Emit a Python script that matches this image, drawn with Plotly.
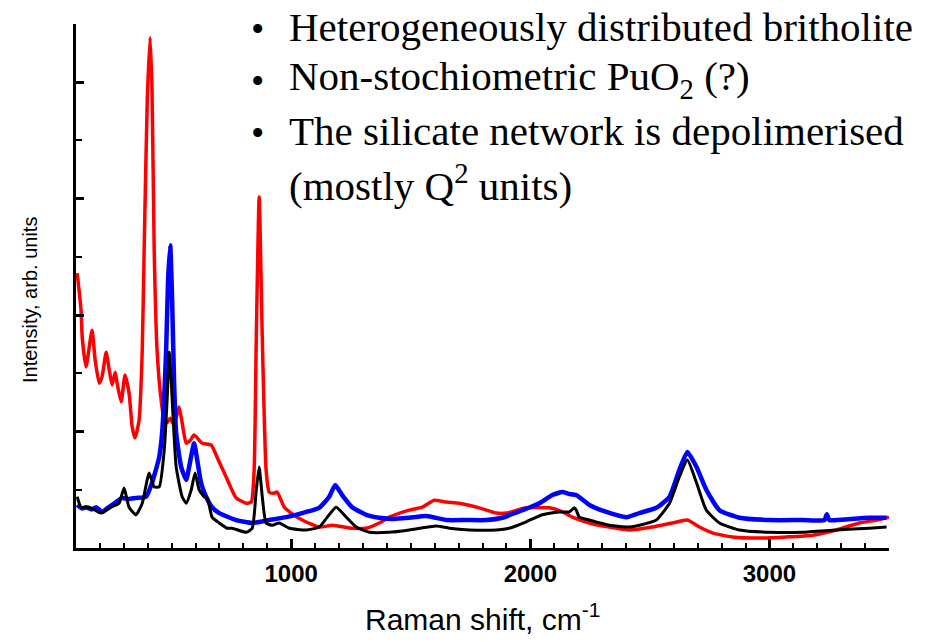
import plotly.graph_objects as go

# Raman spectra: (Raman shift cm-1, intensity arb. units)
red_pts = [(105,4.72),(121,4.09),(126,3.62),(142,3.11),(167,3.74),(180,3.23),(197,2.83),(209,2.94),
           (226,3.36),(239,3.06),(251,2.80),(264,3.02),(272,2.83),(289,2.51),(305,2.97),(322,2.66),
           (335,2.08),(347,1.89),(364,2.20),(377,3.40),(385,5.12),(398,7.69),(410,8.77),(418,7.86),
           (427,5.12),(439,3.40),(456,2.54),(469,2.20),(481,2.15),(494,2.23),(510,2.11),(531,2.42),
           (544,2.15),(561,1.80),(578,1.85),(594,1.94),(628,1.80),(665,1.77),(690,1.56),(728,1.22),
           (770,0.86),(812,0.77),(833,0.79),(845,1.34),(854,3.62),(866,6.03),(879,3.62),(895,1.34),
           (908,0.96),(925,0.94),(941,0.96),(971,0.70),(1000,0.60),(1046,0.48),(1117,0.36),(1172,0.39),
           (1255,0.34),(1314,0.34),(1368,0.43),(1410,0.53),(1494,0.65),(1548,0.70),(1598,0.82),
           (1649,0.79),(1703,0.77),(1787,0.69),(1858,0.60),(1900,0.60),(1983,0.69),(2079,0.69),
           (2134,0.62),(2176,0.53),(2247,0.43),(2330,0.36),(2414,0.31),(2510,0.36),(2594,0.43),
           (2657,0.48),(2707,0.36),(2761,0.26),(2845,0.19),(2958,0.17),(3071,0.19),(3180,0.22),
           (3280,0.31),(3376,0.43),(3448,0.48),(3500,0.53)]

blue_pts = [(105,0.74),(125,0.68),(142,0.70),(165,0.66),(184,0.70),(209,0.62),(230,0.68),(251,0.74),
            (293,0.86),(320,0.84),(351,0.86),(393,0.88),(418,1.12),(448,1.56),(460,1.97),(477,3.40),
            (485,4.60),(494,5.20),(502,4.26),(510,2.88),(519,1.97),(540,1.39),(561,1.17),(573,1.39),
            (594,1.80),(607,1.51),(623,1.12),(644,0.88),(669,0.70),(699,0.60),(770,0.48),(837,0.43),
            (908,0.48),(979,0.53),(1046,0.60),(1117,0.69),(1159,0.88),(1184,1.08),(1213,0.91),
            (1255,0.70),(1314,0.57),(1368,0.52),(1430,0.50),(1494,0.52),(1565,0.55),(1649,0.48),
            (1732,0.48),(1816,0.48),(1883,0.52),(1967,0.65),(2038,0.77),(2092,0.91),(2134,0.96),
            (2160,0.93),(2192,0.91),(2247,0.74),(2318,0.62),(2402,0.53),(2456,0.60),(2527,0.69),
            (2582,0.88),(2623,1.34),(2657,1.65),(2695,1.39),(2736,1.00),(2791,0.65),(2874,0.52),
            (3000,0.48),(3138,0.48),(3230,0.48),(3240,0.58),(3250,0.48),(3280,0.48),(3418,0.52),
            (3490,0.52)]

black_pts = [(105,0.88),(121,0.70),(155,0.70),(205,0.60),(247,0.70),(280,0.77),(301,1.03),(322,0.70),
             (351,0.57),(377,0.77),(406,1.29),(427,1.05),(448,1.05),(469,1.68),(481,2.54),(490,3.36),
             (498,2.88),(506,2.25),(519,1.39),(544,0.88),(561,0.77),(582,1.00),(598,1.29),(615,1.00),
             (636,0.88),(649,0.86),(669,0.53),(699,0.43),(732,0.34),(753,0.34),(812,0.27),(837,0.34),
             (854,1.00),(866,1.39),(879,0.88),(895,0.43),(921,0.39),(950,0.43),(992,0.34),(1063,0.31),
             (1117,0.36),(1151,0.53),(1188,0.70),(1230,0.53),(1272,0.36),(1326,0.27),(1410,0.27),
             (1494,0.31),(1607,0.38),(1661,0.34),(1745,0.31),(1858,0.31),(1912,0.34),(1983,0.45),
             (2050,0.57),(2121,0.62),(2163,0.62),(2184,0.69),(2192,0.65),(2205,0.53),(2247,0.48),
             (2330,0.39),(2414,0.36),(2456,0.39),(2527,0.48),(2582,0.77),(2623,1.22),(2657,1.51),
             (2695,1.12),(2736,0.65),(2791,0.43),(2874,0.31),(3000,0.27),(3138,0.27),(3280,0.31),
             (3418,0.34),(3490,0.36)]

x_ticks = [1000, 2000, 3000]
x_tick_labels = ["1000", "2000", "3000"]

bullets = ["Heterogeneously distributed britholite",
           "Non-stochiometric PuO<sub>2</sub> (?)",
           "The silicate network is depolimerised",
           "(mostly Q<sup>2</sup> units)"]

fig = go.Figure()
for pts, col, w in [(red_pts, "#ff0000", 3.5), (blue_pts, "#0000ff", 4.5), (black_pts, "#000000", 3)]:
    xs, ys = zip(*pts)
    fig.add_trace(go.Scatter(x=list(xs), y=list(ys), mode="lines",
                             line=dict(color=col, width=w, shape="spline", smoothing=0.5),
                             showlegend=False, hoverinfo="skip"))

W, H = 948, 642
L, R, T, B = 76, 59, 24, 94
pw, ph = W - L - R, H - T - B

def px(xp):
    return (xp - L) / pw

def py(yp):
    return (H - B - yp) / ph

annotations = []
line_y = [27, 79, 131, 183]
for i, txt in enumerate(bullets):
    if i < 3:
        annotations.append(dict(x=px(257), y=py(line_y[i] + 2), xref="paper", yref="paper",
                                text="•", showarrow=False, xanchor="center", yanchor="middle",
                                font=dict(family="Liberation Serif", size=38, color="black")))
    annotations.append(dict(x=px(287), y=py(line_y[i]), xref="paper", yref="paper",
                            text=txt, showarrow=False, xanchor="left", yanchor="middle",
                            font=dict(family="Liberation Serif", size=41, color="black")))

annotations.append(dict(x=px(30), y=py(300), xref="paper", yref="paper",
                        text="Intensity, arb. units", textangle=-90, showarrow=False,
                        xanchor="center", yanchor="middle",
                        font=dict(family="Liberation Sans", size=20, color="black")))
annotations.append(dict(x=px(482), y=py(617), xref="paper", yref="paper",
                        text="Raman shift, cm<sup>-1</sup>", showarrow=False,
                        xanchor="center", yanchor="middle",
                        font=dict(family="Liberation Sans", size=30, color="black")))

fig.update_layout(
    width=W, height=H,
    margin=dict(l=L, r=R, t=T, b=B, pad=0),
    plot_bgcolor="white", paper_bgcolor="white",
    annotations=annotations,
    xaxis=dict(range=[100, 3500], showgrid=False, zeroline=False,
               showline=True, linecolor="black", linewidth=3,
               ticks="inside", ticklen=9, tickwidth=2.5, tickcolor="black",
               tickvals=x_ticks, ticktext=x_tick_labels,
               tickfont=dict(family="Liberation Sans", size=24, color="black", weight="bold"),
               ticklabelstandoff=2,
               minor=dict(ticks="inside", dtick=100, tick0=0, ticklen=5, tickwidth=2, tickcolor="black")),
    yaxis=dict(range=[0, 9], showgrid=False, zeroline=False,
               showline=True, linecolor="black", linewidth=3,
               ticks="inside", ticklen=8, tickwidth=2.5, tickcolor="black",
               tickvals=[2, 4, 6, 8], showticklabels=False,
               minor=dict(ticks="inside", dtick=1, tick0=0, ticklen=6, tickwidth=2, tickcolor="black")),
)

fig.write_html("out.html")
